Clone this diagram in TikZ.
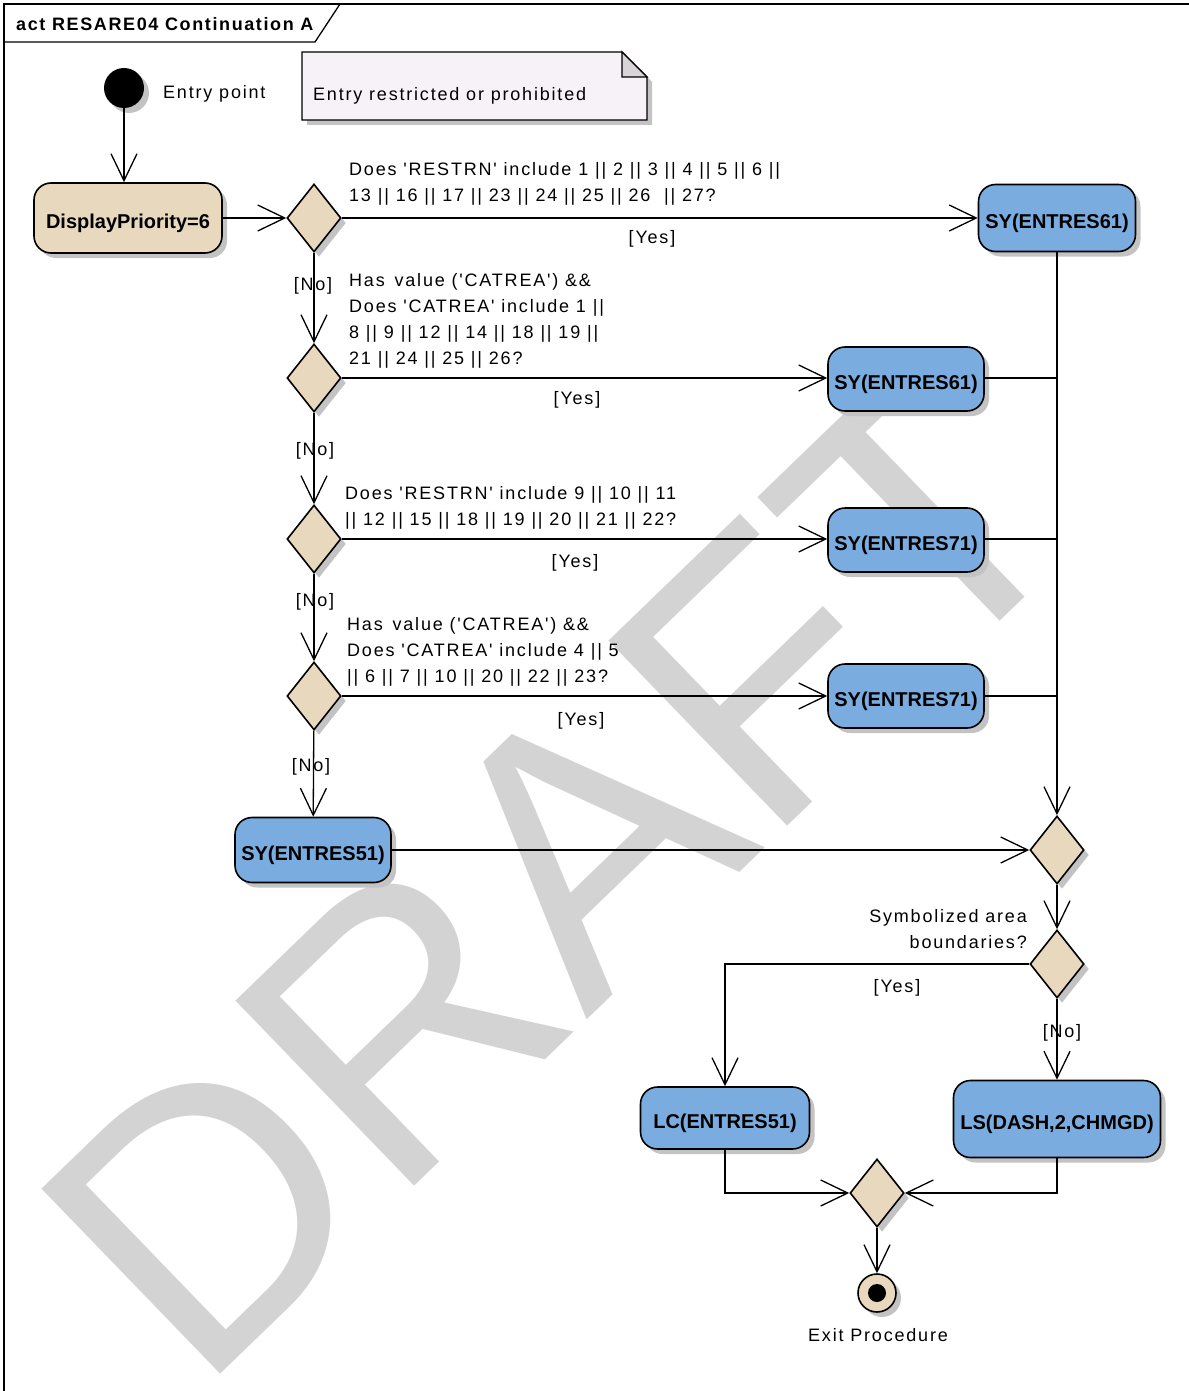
\documentclass[tikz,border=0pt]{standalone}
\usepackage{fontspec}
\setmainfont{Liberation Sans}
\newfontfamily\lblfont[LetterSpace=10]{Liberation Sans}
\newfontfamily\ttlfont[LetterSpace=9]{Liberation Sans}
\usetikzlibrary{shapes.geometric,shadows,arrows.meta}
\definecolor{actblue}{RGB}{122,172,224}
\definecolor{tanfill}{RGB}{232,216,190}
\definecolor{shadowc}{RGB}{195,195,195}
\definecolor{wmgray}{RGB}{211,211,211}
\definecolor{notefill}{RGB}{247,242,247}
\definecolor{foldfill}{RGB}{216,212,216}
\begin{document}
\begin{tikzpicture}[x=1pt,y=-1pt,
  edge/.style={line width=1.3pt},
  arr/.style={edge,-{Straight Barb[length=27pt,width=26pt]}},
  shad/.style={drop shadow={shadow xshift=5pt,shadow yshift=-5pt,fill=shadowc,opacity=1}},
  actbox/.style={rectangle,rounded corners=17pt,draw,line width=1.6pt,fill=actblue,shad,
     font=\fontsize{20}{24}\selectfont\bfseries,inner sep=0pt,text height=20.4pt,text depth=0pt},
  prio/.style={actbox,fill=tanfill},
  dec/.style={diamond,draw,line width=1.6pt,fill=tanfill,shad,minimum width=54pt,minimum height=68pt,inner sep=0pt},
  lbl/.style={font=\lblfont\fontsize{18}{26}\selectfont,inner sep=0pt},
]
\useasboundingbox (0,0) rectangle (1188,1391);
% watermark
\begin{scope}
\clip (0,0) rectangle (1188,1391);
\node[rotate=44,text=wmgray,font=\fontsize{374}{374}\selectfont,inner sep=0pt] (wm) at (557,870) {DRAFT};
\end{scope}
% frame
\draw[line width=1.3pt] (4,1395) -- (4,4) -- (1192,4);
\draw[line width=1.3pt] (4,42) -- (315,42) -- (340,4);
\node[font=\ttlfont\bfseries\fontsize{18}{20}\selectfont,anchor=base west,inner sep=0pt] (title) at (16,30.5) {act RESARE04 Continuation A};
% note
\fill[shadowc] (307,57) -- (627,57) -- (652,82) -- (652,125) -- (307,125) -- cycle;
\draw[line width=1.3pt,fill=notefill] (302,52) -- (622,52) -- (647,77) -- (647,120) -- (302,120) -- cycle;
\draw[line width=1.3pt,fill=foldfill] (622,52) -- (622,77) -- (647,77) -- cycle;
\node[lbl,anchor=base west] (notetext) at (313,100.5) {Entry restricted or prohibited};
% nodes
\node[circle,fill=black,minimum size=40pt,inner sep=0pt,shad] (init) at (124,88) {};
\node[lbl,anchor=base west] (initlbl) at (163,98.5) {Entry point};
\node[prio,minimum width=188pt,minimum height=70pt] (dp) at (128,218) {DisplayPriority=6};
\node[dec] (d1) at (314,218) {};
\node[actbox,minimum width=157pt,minimum height=67pt] (a1) at (1057,218) {SY(ENTRES61)};
\node[dec] (d2) at (314,378) {};
\node[actbox,minimum width=156pt,minimum height=64pt] (a2) at (906,379) {SY(ENTRES61)};
\node[dec] (d3) at (314,539) {};
\node[actbox,minimum width=156pt,minimum height=64pt] (a3) at (906,540) {SY(ENTRES71)};
\node[dec] (d4) at (314,696) {};
\node[actbox,minimum width=156pt,minimum height=64pt] (a4) at (906,696) {SY(ENTRES71)};
\node[actbox,minimum width=156pt,minimum height=65pt] (a5) at (313,850) {SY(ENTRES51)};
\node[dec] (m1) at (1057,850) {};
\node[dec] (d5) at (1057,964) {};
\node[actbox,minimum width=169pt,minimum height=62pt] (lc) at (725,1118) {LC(ENTRES51)};
\node[actbox,minimum width=207pt,minimum height=77pt] (ls) at (1057,1119) {LS(DASH,2,CHMGD)};
\node[dec] (m2) at (877,1193) {};
\node[circle,draw,line width=1.6pt,fill=tanfill,minimum size=38pt,inner sep=0pt,shad] (fin) at (877,1293) {};
\fill (fin.center) circle (9pt);
\node[lbl,anchor=base] (finlbl) at (878,1341.5) {Exit Procedure};
% connectors
\draw[arr] (init) -- (init |- dp.north);
\draw[arr] (dp) -- (d1);
\draw[arr] (d1) -- (a1);
\draw[arr] (d1) -- (d2);
\draw[arr] (d2) -- (d2 -| a2.west);
\draw[arr] (d2) -- (d3);
\draw[arr] (d3) -- (d3 -| a3.west);
\draw[arr] (d3) -- (d4);
\draw[arr] (d4) -- (a4);
\draw[arr] (d4) -- (a5);
\draw[arr] (a5) -- (m1);
\draw[arr] (a1) -- (m1);
\draw[edge] (d2 -| a2.east) -- (d2 -| a1.south);
\draw[edge] (d3 -| a3.east) -- (d3 -| a1.south);
\draw[edge] (a4.east) -- (a4.east -| a1.south);
\draw[arr] (m1) -- (d5);
\draw[arr] (d5.west) -| (lc.north);
\draw[arr] (d5) -- (ls);
\draw[arr] (lc.south) |- (m2.west);
\draw[arr] (ls.south) |- (m2.east);
\draw[arr] (m2) -- (fin);
% guard labels
\node[lbl,anchor=north west,align=left] (q1) at (349,162.3) {Does 'RESTRN' include 1 || 2 || 3 || 4 || 5 || 6 ||\\13 || 16 || 17 || 23 || 24 || 25 || 26 \ || 27?};
\node[lbl,anchor=north west,align=left] (q2) at (349,273.3) {Has \,value ('CATREA') \&\&\\Does 'CATREA' include 1 ||\\8 || 9 || 12 || 14 || 18 || 19 ||\\21 || 24 || 25 || 26?};
\node[lbl,anchor=north west,align=left] (q3) at (345,486.3) {Does 'RESTRN' include 9 || 10 || 11\\|| 12 || 15 || 18 || 19 || 20 || 21 || 22?};
\node[lbl,anchor=north west,align=left] (q4) at (347,617.3) {Has \,value ('CATREA') \&\&\\Does 'CATREA' include 4 || 5\\|| 6 || 7 || 10 || 20 || 22 || 23?};
\node[lbl,anchor=north east,align=right] (q5) at (1027,909.3) {Symbolized area\\boundaries?};
\node[lbl,anchor=base] (y1) at (652,243.5) {[Yes]};
\node[lbl,anchor=base] (y2) at (577,404.5) {[Yes]};
\node[lbl,anchor=base] (y3) at (575,567.5) {[Yes]};
\node[lbl,anchor=base] (y4) at (581,725.5) {[Yes]};
\node[lbl,anchor=base] (y5) at (897,992.5) {[Yes]};
\node[lbl,anchor=base] (n1) at (313,290.5) {[No]};
\node[lbl,anchor=base] (n2) at (315,455.5) {[No]};
\node[lbl,anchor=base] (n3) at (315,606.5) {[No]};
\node[lbl,anchor=base] (n4) at (311,771.5) {[No]};
\node[lbl,anchor=base] (n5) at (1062,1037.5) {[No]};
\end{tikzpicture}
\end{document}
